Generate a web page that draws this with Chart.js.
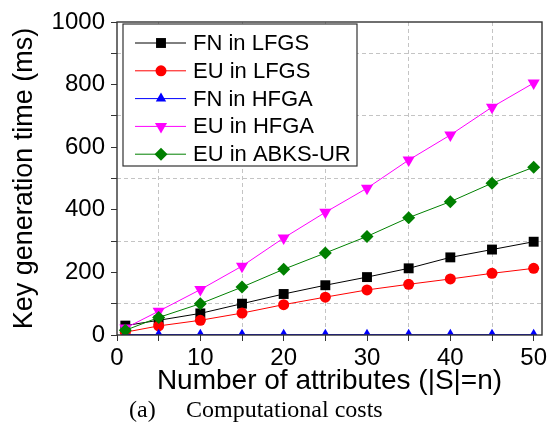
<!DOCTYPE html>
<html>
<head>
<meta charset="utf-8">
<script src="https://cdn.jsdelivr.net/npm/chart.js@4/dist/chart.umd.min.js"></script>
<style>
  html, body { margin: 0; padding: 0; background: #fff; }
  #wrap { width: 555px; height: 441px; }
</style>
</head>
<body>
<div id="wrap"><canvas id="keyChart"></canvas></div>
<script>
// attribute counts on the x axis
const attrs = [1, 5, 10, 15, 20, 25, 30, 35, 40, 45, 50];

// key generation time in ms
const fnLfgs  = [30, 47, 69, 100, 131, 159, 185, 213, 248, 273, 298];
const euLfgs  = [9, 29, 47, 70, 97, 121, 144, 162, 179, 197, 213];
const fnHfga  = [1, 1, 1, 1, 1, 1, 1, 1, 1, 1, 1];
const euHfga  = [22, 76, 145, 220, 310, 392, 469, 559, 639, 728, 805];
const euAbks  = [15, 56, 100, 153, 210, 262, 315, 375, 426, 485, 536];

const seriesNames = ["FN in LFGS", "EU in LFGS", "FN in HFGA", "EU in HFGA", "EU in ABKS-UR"];
const xTickLabels = [0, 10, 20, 30, 40, 50];
const yTickLabels = [0, 200, 400, 600, 800, 1000];

const sans = "'Liberation Sans', Arial, sans-serif";

function pts(ys) {
  return attrs.map((x, i) => ({ x: x, y: ys[i] }));
}

function series(label, ys, color, style, radius, rotation, order) {
  return {
    label: label,
    data: pts(ys),
    borderColor: color,
    backgroundColor: color,
    borderWidth: 1,
    pointStyle: style,
    pointRadius: radius,
    pointHoverRadius: radius,
    pointRotation: rotation,
    pointBorderWidth: 0,
    pointBackgroundColor: color,
    tension: 0,
    order: order
  };
}

const datasets = [
  series(seriesNames[0], fnLfgs, "#000000", "rect", 7, 0, 5),
  series(seriesNames[1], euLfgs, "#ff0000", "circle", 5.5, 0, 4),
  series(seriesNames[2], fnHfga, "#0000ff", "triangle", 6, 0, 3),
  series(seriesNames[3], euHfga, "#ff00ff", "triangle", 7, 180, 2),
  series(seriesNames[4], euAbks, "#008000", "rectRot", 6.5, 0, 1)
];
datasets[2].clip = { left: 10, right: 10, top: 10, bottom: 0 };
datasets[2].borderWidth = 1.6;

// frame around the plot area
const framePlugin = {
  id: "frame",
  afterDatasetsDraw(chart) {
    const { ctx, chartArea: a } = chart;
    ctx.save();
    ctx.strokeStyle = "#333";
    ctx.lineWidth = 1.4;
    ctx.strokeRect(a.left, a.top, a.right - a.left, a.bottom - a.top);
    ctx.restore();
  }
};

// boxed legend inside the top-left corner
const boxLegend = {
  id: "boxLegend",
  afterDraw(chart) {
    const { ctx, chartArea: a } = chart;
    const bx = a.left + 6, by = a.top + 2, bw = 234, bh = 142;
    ctx.save();
    ctx.fillStyle = "#fff";
    ctx.fillRect(bx, by, bw, bh);
    ctx.strokeStyle = "#333";
    ctx.lineWidth = 1.2;
    ctx.strokeRect(bx, by, bw, bh);
    ctx.font = "22px " + sans;
    ctx.textBaseline = "middle";
    chart.data.datasets.forEach((ds, i) => {
      const cy = by + 19 + i * 27.8;
      ctx.strokeStyle = ds.borderColor;
      ctx.lineWidth = 1;
      ctx.beginPath();
      ctx.moveTo(bx + 12, cy);
      ctx.lineTo(bx + 63, cy);
      ctx.stroke();
      ctx.fillStyle = ds.backgroundColor;
      Chart.helpers.drawPoint(ctx, {
        pointStyle: ds.pointStyle,
        radius: ds.pointRadius,
        rotation: ds.pointRotation,
        borderWidth: 0
      }, bx + 38, cy);
      ctx.fillStyle = "#000";
      ctx.fillText(ds.label, bx + 70, cy + 1);
    });
    ctx.restore();
  }
};

// figure caption under the axis title
const caption = {
  id: "caption",
  afterDraw(chart) {
    const ctx = chart.ctx;
    ctx.save();
    ctx.fillStyle = "#000";
    ctx.font = "24px 'Liberation Serif', 'Times New Roman', serif";
    ctx.textBaseline = "middle";
    ctx.fillText("(a)", 129, 411);
    ctx.fillText("Computational costs", 186, 411);
    ctx.restore();
  }
};

const gridDash = "#c4c4c4";

new Chart(document.getElementById("keyChart"), {
  type: "line",
  data: { datasets: datasets },
  plugins: [framePlugin, boxLegend, caption],
  options: {
    responsive: true,
    maintainAspectRatio: false,
    animation: false,
    layout: { padding: { top: 22, right: 13, left: 0, bottom: 0 } },
    plugins: {
      legend: { display: false },
      tooltip: { enabled: false }
    },
    scales: {
      x: {
        type: "linear",
        min: 0,
        max: 51,
        afterFit: s => { s.height = 106; },
        ticks: {
          stepSize: 5,
          includeBounds: false,
          autoSkip: false,
          maxRotation: 0,
          padding: 3,
          color: "#000",
          font: { family: sans, size: 24 },
          callback: v => xTickLabels.includes(v) ? String(v) : ""
        },
        grid: {
          color: c => (c.tick && c.tick.value % 10 === 5) ? gridDash : "rgba(0,0,0,0)",
          borderDash: [4, 3],
          tickLength: 6,
          tickColor: "#333",
          tickBorderDash: [],
          tickWidth: 1
        },
        border: { display: false, dash: [4, 3] },
        title: {
          display: true,
          text: "Number of attributes (|S|=n)",
          color: "#000",
          font: { family: sans, size: 28 },
          padding: { top: 0, bottom: 43 }
        }
      },
      y: {
        min: 0,
        max: 1000,
        afterFit: s => { s.width = 117; },
        ticks: {
          stepSize: 100,
          autoSkip: false,
          padding: 6,
          color: "#000",
          font: { family: sans, size: 24 },
          callback: v => yTickLabels.includes(v) ? String(v) : ""
        },
        grid: {
          color: c => (c.tick && c.tick.value % 200 === 100) ? gridDash : "rgba(0,0,0,0)",
          borderDash: [4, 3],
          tickLength: 6,
          tickColor: "#333",
          tickBorderDash: [],
          tickWidth: 1
        },
        border: { display: false, dash: [4, 3] },
        title: {
          display: true,
          text: "Key generation time (ms)",
          color: "#000",
          font: { family: sans, size: 27 },
          padding: { top: 8, bottom: 0 }
        }
      }
    }
  }
});
</script>
</body>
</html>
